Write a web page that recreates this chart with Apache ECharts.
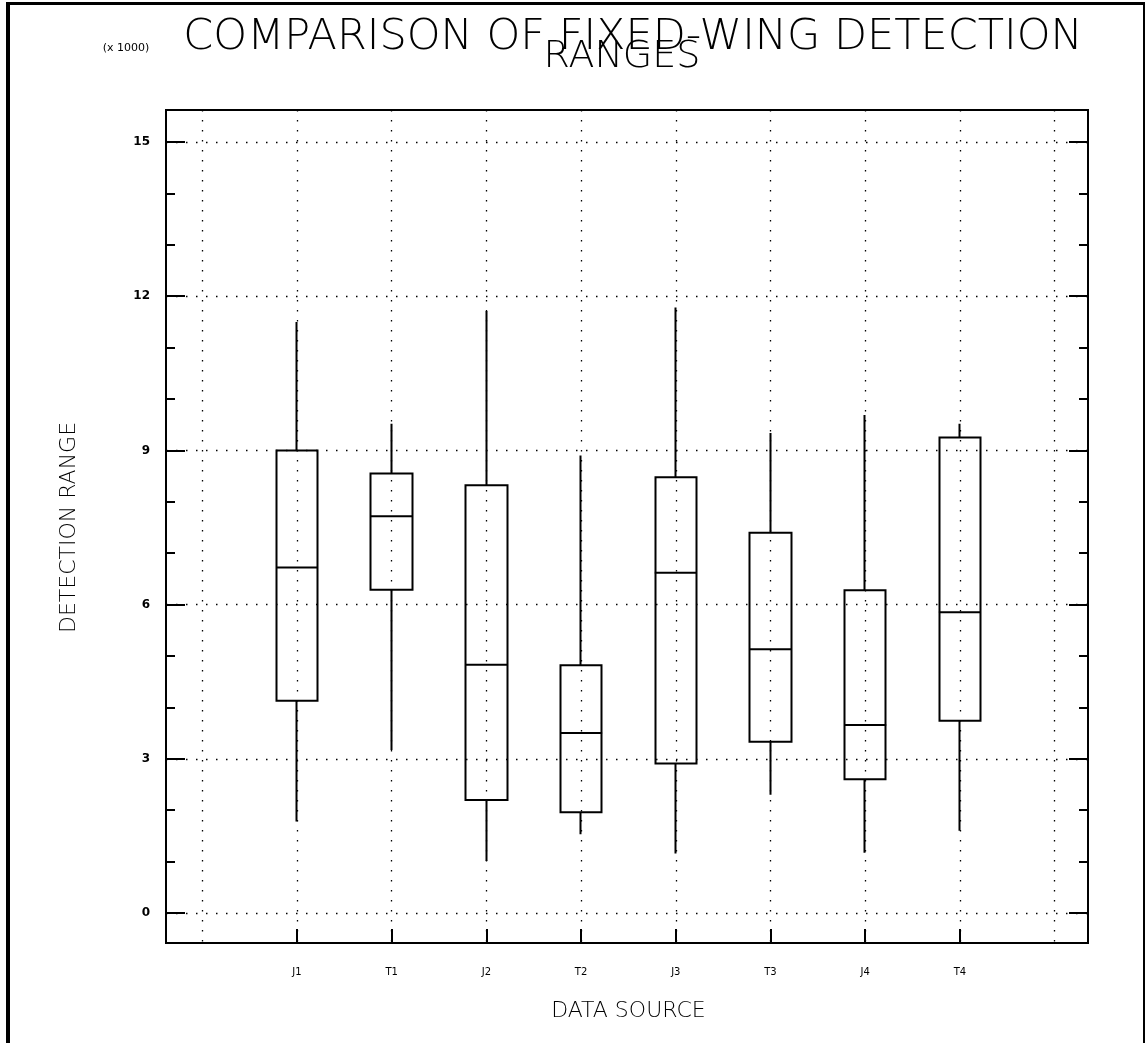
<!DOCTYPE html>
<html>
<head>
<meta charset="utf-8">
<script src="https://cdn.jsdelivr.net/npm/echarts@6/dist/echarts.min.js"></script>
<style>
  body { margin: 0; background: #fff; }
  #main { position: absolute; left: 0; top: 0; width: 1145px; height: 1043px; }
  #frame { position: absolute; left: 6px; top: 2px; width: 1133px; height: 1100px;
           border-left: 4px solid #000; border-top: 3px solid #000; border-right: 2px solid #000; pointer-events: none; }
</style>
</head>
<body>
<div id="main"></div>
<div id="frame"></div>
<script>
  // detection ranges, x 1000
  const sources = ['J1', 'T1', 'J2', 'T2', 'J3', 'T3', 'J4', 'T4'];
  const lowWhisker = [1.78, 3.17, 1.01, 1.53, 1.16, 2.3, 1.17, 1.6];
  const q1 = [4.13, 6.29, 2.20, 1.96, 2.91, 3.33, 2.60, 3.74];
  const median = [6.72, 7.72, 4.83, 3.50, 6.62, 5.13, 3.66, 5.85];
  const q3 = [9.0, 8.55, 8.32, 4.82, 8.48, 7.40, 6.28, 9.25];
  const highWhisker = [11.5, 9.52, 11.71, 8.90, 11.78, 9.34, 9.69, 9.52];
  const yTicks = [0, 3, 6, 9, 12, 15];

  let chart = echarts.init(document.getElementById('main'));

  const dots = { type: [1.5, 8.5], color: '#000', width: 1.3 };
  const boxData = sources.map((s, i) => [q1[i], q3[i], lowWhisker[i], highWhisker[i]]);
  // box grid reaches down to the frame so the category ticks sit on the bottom line
  const boxMin = -30 * 15 / 771;

  let option = {
    animation: false,
    backgroundColor: '#fff',
    textStyle: { fontFamily: 'DejaVu Sans' },
    graphic: [
      { type: 'text', x: 633, y: 38, style: { text: 'COMPARISON OF FIXED-WING DETECTION', font: '200 43px "DejaVu Sans"', fill: '#000', textAlign: 'center', textVerticalAlign: 'middle' } },
      { type: 'text', x: 622, y: 57, style: { text: 'RANGES', font: '200 38px "DejaVu Sans"', fill: '#000', textAlign: 'center', textVerticalAlign: 'middle' } },
      { type: 'text', x: 126, y: 48, style: { text: '(x 1000)', font: '11px "DejaVu Sans"', fill: '#000', textAlign: 'center', textVerticalAlign: 'middle' } }
    ],
    grid: [
      { left: 166, top: 110, width: 922, height: 833, show: true, borderColor: '#000', borderWidth: 2, backgroundColor: 'transparent' },
      { left: 202.3, top: 110, width: 852.3, height: 833 },
      { left: 166, top: 142, width: 922, height: 771 },
      { left: 249.65, top: 142, width: 757.6, height: 801 }
    ],
    xAxis: [
      { gridIndex: 0, type: 'value', show: false },
      { gridIndex: 1, type: 'value', min: 0, max: 9, interval: 1,
        axisLine: { show: false }, axisTick: { show: false }, axisLabel: { show: false },
        splitLine: { show: true, lineStyle: dots } },
      { gridIndex: 2, type: 'value', show: false },
      { gridIndex: 3, type: 'category', data: sources, boundaryGap: true,
        axisLine: { show: false, onZero: false },
        axisTick: { show: true, inside: true, alignWithLabel: true, length: 14, lineStyle: { color: '#000', width: 2 } },
        axisLabel: { margin: 24, fontSize: 10, color: '#000' },
        name: 'DATA SOURCE', nameLocation: 'middle', nameGap: 57,
        nameTextStyle: { fontSize: 22, fontWeight: 200, color: '#000' } }
    ],
    yAxis: [
      { gridIndex: 0, type: 'value', show: false },
      { gridIndex: 1, type: 'value', show: false },
      { gridIndex: 2, type: 'value', min: 0, max: 15, interval: 3, position: 'left',
        axisLine: { show: false },
        axisTick: { show: true, inside: true, length: 19, lineStyle: { color: '#000', width: 2 } },
        minorTick: { show: true, splitNumber: 3, length: 9, lineStyle: { color: '#000', width: 2 } },
        axisLabel: { margin: 16, fontSize: 12, color: '#000', fontWeight: 'bold',
          customValues: yTicks },
        splitLine: { show: true, lineStyle: dots },
        name: 'DETECTION RANGE', nameLocation: 'middle', nameGap: 86, nameRotate: 90,
        nameTextStyle: { fontSize: 22, fontWeight: 200, color: '#000' } },
      { gridIndex: 2, type: 'value', min: 0, max: 15, interval: 3, position: 'right',
        axisLine: { show: false },
        axisTick: { show: true, inside: true, length: 19, lineStyle: { color: '#000', width: 2 } },
        minorTick: { show: true, splitNumber: 3, length: 9, lineStyle: { color: '#000', width: 2 } },
        axisLabel: { show: false },
        splitLine: { show: false } },
      { gridIndex: 3, type: 'value', min: boxMin, max: 15, show: false }
    ],
    series: [
      {
        type: 'candlestick',
        xAxisIndex: 3, yAxisIndex: 4,
        barWidth: 42,
        data: boxData,
        itemStyle: { color: 'transparent', color0: 'transparent', borderColor: '#000', borderColor0: '#000', borderWidth: 2 }
      },
      {
        type: 'scatter',
        xAxisIndex: 3, yAxisIndex: 4,
        symbol: 'rect', symbolSize: [42, 2],
        data: median,
        itemStyle: { color: '#000', opacity: 1 }
      }
    ]
  };

  chart.setOption(option);
</script>
</body>
</html>
